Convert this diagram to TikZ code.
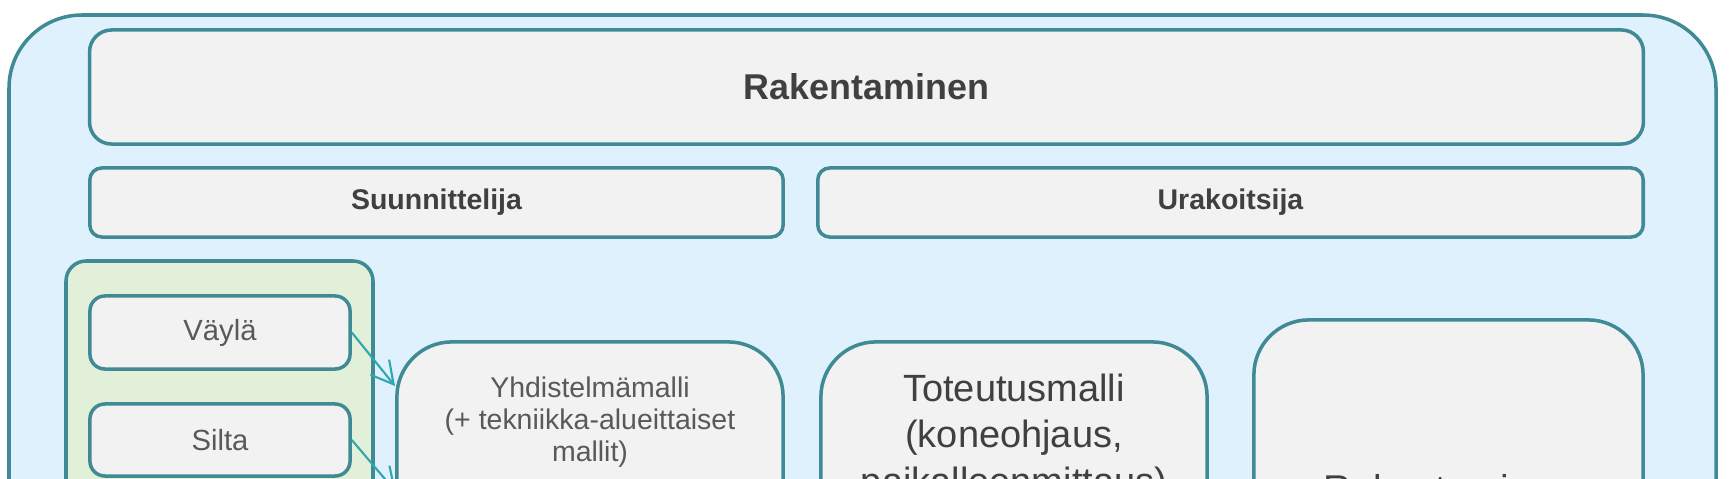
\documentclass[tikz,border=0pt]{standalone}
\usepackage{fontspec}
\setmainfont{Liberation Sans}
\usetikzlibrary{arrows.meta}
\definecolor{reuna}{HTML}{3F8A94}
\definecolor{tausta}{HTML}{DFF1FC}
\definecolor{harmaa}{HTML}{F2F2F2}
\definecolor{vihrea}{HTML}{E2F0D9}
\definecolor{nuoli}{HTML}{2FA7AE}
\definecolor{tumma}{HTML}{404040}
\definecolor{vaalea}{HTML}{595959}
\begin{document}
\begin{tikzpicture}[>={Straight Barb[length=2.2mm,width=2.4mm]},x=0.01cm,y=-0.01cm,
	ruutu/.style={draw=reuna,line width=1pt,fill=harmaa,rounded corners=#1,inner sep=0pt},
	teksti/.style={align=center,inner sep=0pt,text=#1}]
		\useasboundingbox (0,0) rectangle (1729,479);
		\clip (0,0) rectangle (1729,479);
		% kehys
		\draw[draw=reuna,line width=1pt,fill=tausta,rounded corners=7.3mm] (9,15) rectangle (1716,640);
		\node[ruutu=2.2mm,minimum width=15.53cm,minimum height=1.14cm,text=tumma,font=\bfseries\fontsize{10.2}{12}\selectfont] (rak) at (866.5,87) {Rakentaminen};
		\node[ruutu=1.2mm,minimum width=6.93cm,minimum height=0.69cm,text=tumma,font=\bfseries\fontsize{8.1}{9.5}\selectfont] (suun) at (436.5,202.5) {Suunnittelija};
		\node[ruutu=1.2mm,minimum width=8.25cm,minimum height=0.69cm,text=tumma,font=\bfseries\fontsize{8.1}{9.5}\selectfont] (urak) at (1230.5,202.5) {Urakoitsija};
		% tekniikka-alueet
		\draw[draw=reuna,line width=1pt,fill=vihrea,rounded corners=2mm] (66,261) rectangle (373,640);
		\node[ruutu=1.5mm,minimum width=2.6cm,minimum height=0.73cm,text=vaalea,font=\fontsize{8.3}{9.5}\selectfont] (vayla) at (220,332.5) {Väylä};
		\node[ruutu=1.5mm,minimum width=2.6cm,minimum height=0.72cm,text=vaalea,font=\fontsize{8.3}{9.5}\selectfont] (silta) at (220,440) {Silta};
		% mallit
		\node[ruutu=5.5mm,minimum width=3.86cm,minimum height=2.98cm] (yhd) at (590,491) {};
		\node[ruutu=5.5mm,minimum width=3.86cm,minimum height=2.98cm] (tot) at (1014,491) {};
		\node[ruutu=5.5mm,minimum width=3.89cm,minimum height=3.2cm] (raken) at (1448.5,480) {};
		\node[teksti=vaalea,font=\fontsize{8.1}{9.2}\selectfont] (yhdteksti) at (590,422) {Yhdistelmämalli\\(+ tekniikka-alueittaiset\\mallit)};
		\node[teksti=tumma,font=\fontsize{10.8}{13.2}\selectfont] (totteksti) at (1014,438) {Toteutusmalli\\(koneohjaus,\\paikalleenmittaus)};
		\node[teksti=tumma,font=\fontsize{11}{13.2}\selectfont] (rakteksti) at (1448.5,489) {Rakentaminen};
		\coordinate (yhdA) at (395,386);
		\coordinate (yhdB) at (396,492);
		\draw[->,nuoli,line width=0.6pt] (vayla.east) -- (yhdA);
		\draw[->,nuoli,line width=0.6pt] (silta.east) -- (yhdB);
		\end{tikzpicture}
\end{document}
